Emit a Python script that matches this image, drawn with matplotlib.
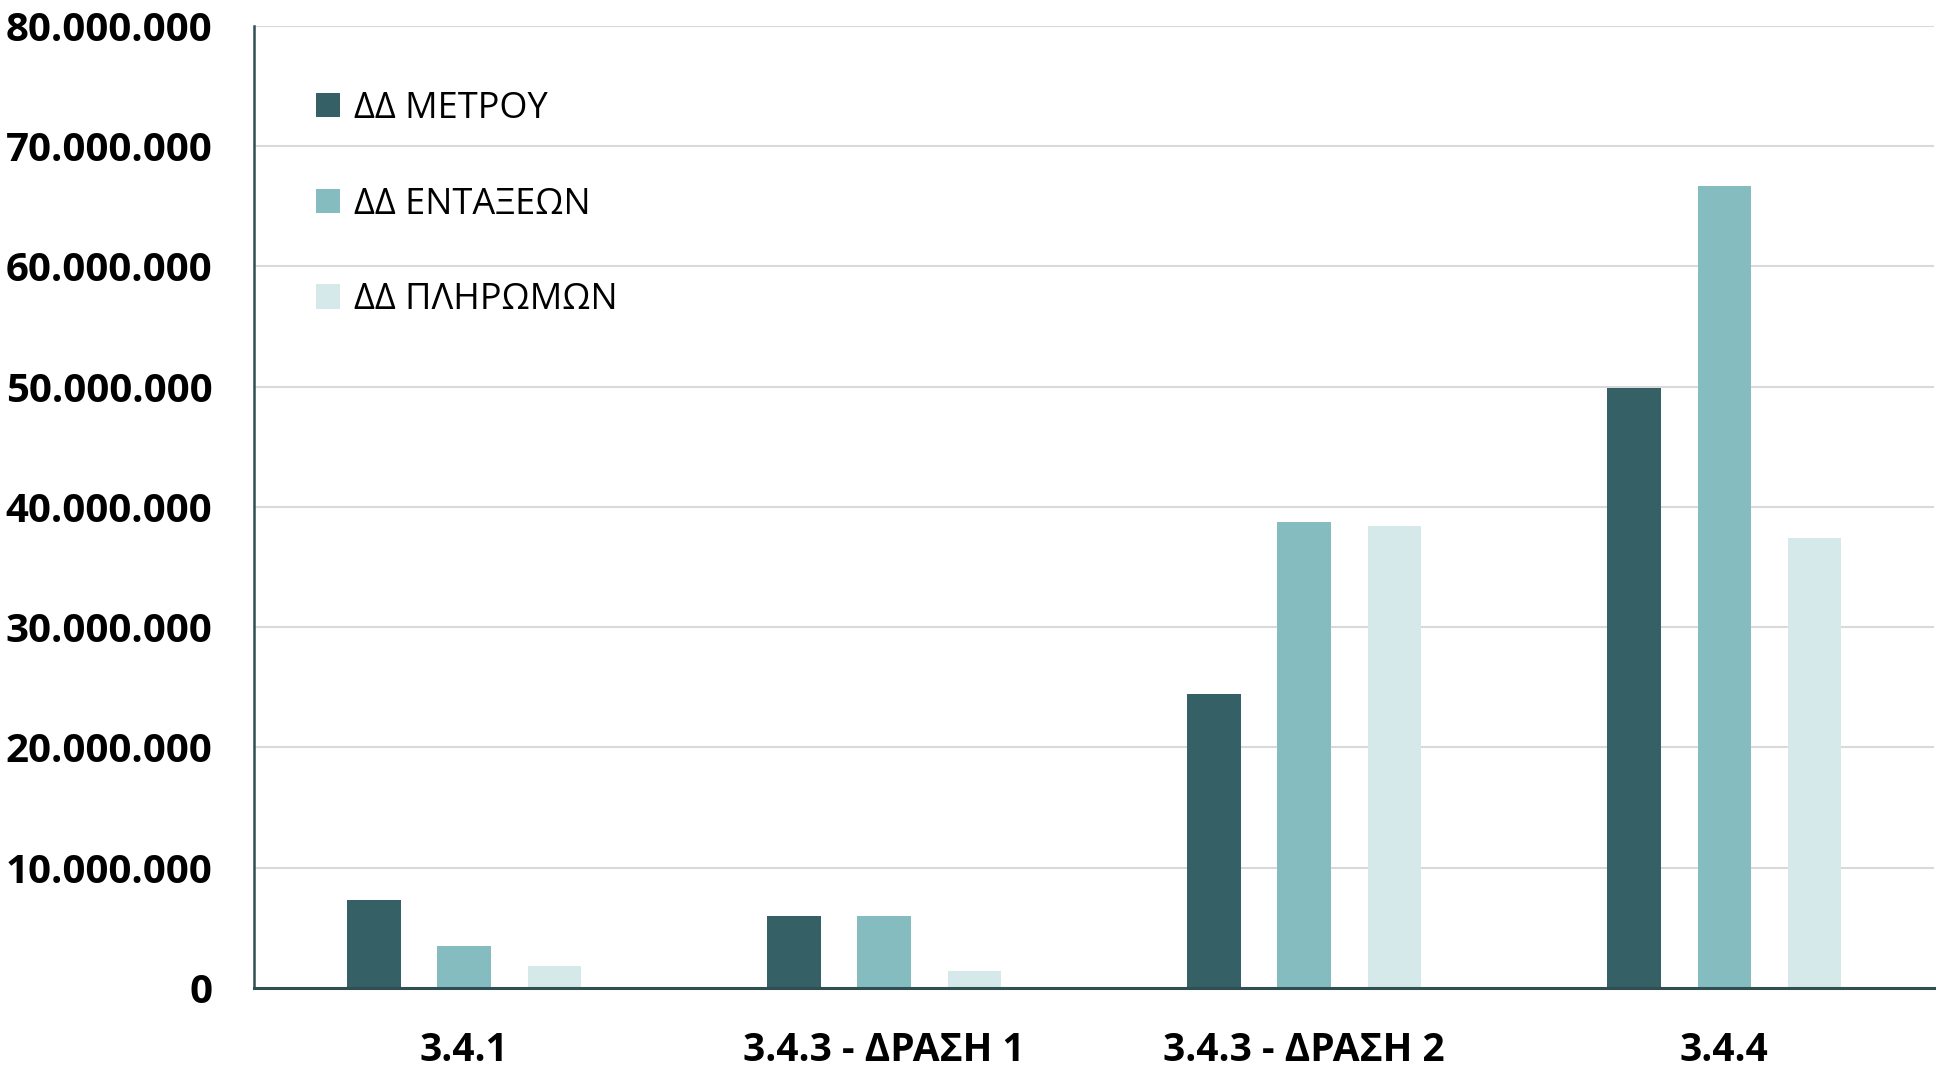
import matplotlib
matplotlib.use("Agg")
import matplotlib.pyplot as plt
import matplotlib.ticker as mticker
import numpy as np

plt.rcParams['font.family'] = ['Open Sans', 'DejaVu Sans']

categories = ["3.4.1", "3.4.3 - ΔΡΑΣΗ 1", "3.4.3 - ΔΡΑΣΗ 2", "3.4.4"]
dd_metrou = [7300000, 5950000, 24400000, 49900000]
dd_entaxeon = [3500000, 5950000, 38700000, 66700000]
dd_pliromon = [1850000, 1450000, 38400000, 37400000]
series_names = ["ΔΔ ΜΕΤΡΟΥ", "ΔΔ ΕΝΤΑΞΕΩΝ", "ΔΔ ΠΛΗΡΩΜΩΝ"]
colors = ["#356166", "#85bcc0", "#d5e8ea"]

fig = plt.figure(figsize=(19.4, 10.67), dpi=100)
ax = fig.add_axes([0.131, 0.074, 0.866, 0.902])

x = np.arange(len(categories))
step = 0.215
width = 0.127
for i, (vals, name) in enumerate(zip([dd_metrou, dd_entaxeon, dd_pliromon], series_names)):
    ax.bar(x + (i - 1) * step, vals, width, color=colors[i], label=name, zorder=3)

ax.set_xlim(-0.5, len(categories) - 0.5)
ax.set_ylim(0, 80000000)
ax.set_yticks(np.arange(0, 80000001, 10000000))
ax.yaxis.set_major_formatter(mticker.FuncFormatter(lambda v, p: f"{int(v):,}".replace(",", ".")))
ax.set_xticks(x)
ax.set_xticklabels(categories)

ax.grid(axis="y", color="#d9d9d9", linewidth=1.5, zorder=0)
for s in ["top", "right"]:
    ax.spines[s].set_visible(False)
ax.spines["left"].set_color("#2f4f52")
ax.spines["left"].set_linewidth(1.8)
ax.spines["bottom"].set_color("#2f4f52")
ax.spines["bottom"].set_linewidth(2.2)
ax.spines["bottom"].set_zorder(4)

ax.tick_params(axis="both", length=0, labelsize=28)
ax.tick_params(axis="y", labelsize=29, pad=30)
ax.tick_params(axis="x", pad=31)
for lbl in ax.get_yticklabels() + ax.get_xticklabels():
    lbl.set_fontweight("bold")
    lbl.set_color("black")

leg = ax.legend(loc="upper left", bbox_to_anchor=(0.037, 0.932), frameon=False,
                fontsize=26, handlelength=0.65, handleheight=0.65, handletextpad=0.4,
                labelspacing=1.65, borderpad=0, borderaxespad=0)

fig.savefig("out.png", dpi=100)
